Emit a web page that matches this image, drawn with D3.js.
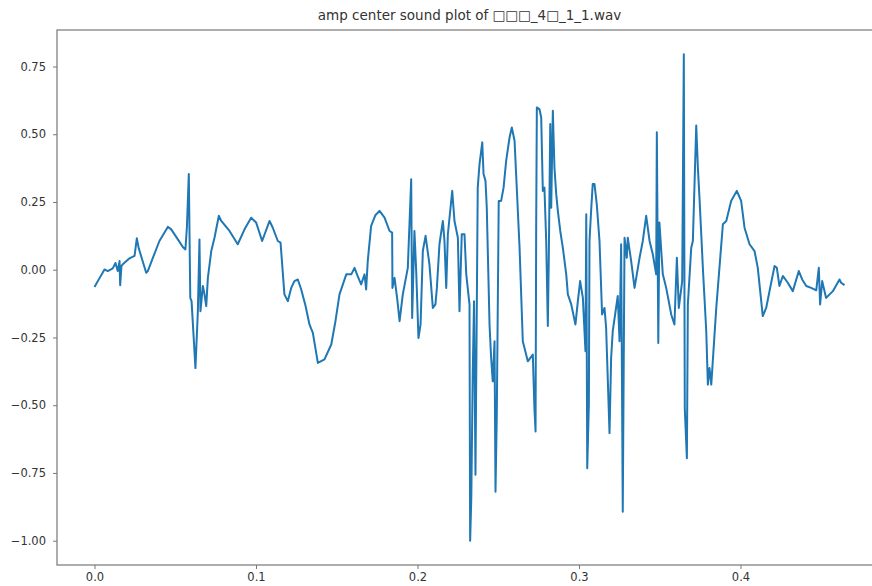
<!DOCTYPE html>
<html>
<head>
<meta charset="utf-8">
<script src="https://cdn.jsdelivr.net/npm/d3@7"></script>
<style>
  body { margin: 0; background: #fff; }
  svg { display: block; }
</style>
</head>
<body>
<svg id="chart" width="872" height="586"></svg>
<script>
const title = 'amp center sound plot of \u25A1\u25A1\u25A1_4\u25A1_1_1.wav';

// time in seconds
const times = [
  0.0000, 0.0031, 0.0062, 0.0082, 0.0113, 0.0130, 0.0144, 0.0155, 0.0159, 0.0167,
  0.0175, 0.0217, 0.0248, 0.0262, 0.0274, 0.0320, 0.0330, 0.0359, 0.0402, 0.0454,
  0.0475, 0.0514, 0.0547, 0.0563, 0.0572, 0.0584, 0.0593, 0.0601, 0.0625, 0.0640,
  0.0650, 0.0656, 0.0671, 0.0681, 0.0692, 0.0702, 0.0723, 0.0743, 0.0770, 0.0785,
  0.0836, 0.0887, 0.0929, 0.0970, 0.1001, 0.1038, 0.1084, 0.1104, 0.1135, 0.1152,
  0.1176, 0.1197, 0.1218, 0.1238, 0.1259, 0.1280, 0.1307, 0.1331, 0.1352, 0.1383,
  0.1424, 0.1466, 0.1492, 0.1517, 0.1559, 0.1590, 0.1610, 0.1629, 0.1651, 0.1672,
  0.1682, 0.1692, 0.1713, 0.1740, 0.1765, 0.1796, 0.1827, 0.1843, 0.1845, 0.1858,
  0.1876, 0.1889, 0.1909, 0.1940, 0.1961, 0.1967, 0.1981, 0.1992, 0.2006, 0.2019,
  0.2033, 0.2050, 0.2074, 0.2095, 0.2111, 0.2120, 0.2136, 0.2157, 0.2167, 0.2178,
  0.2188, 0.2215, 0.2229, 0.2250, 0.2260, 0.2274, 0.2291, 0.2302, 0.2322, 0.2326,
  0.2333, 0.2342, 0.2350, 0.2359, 0.2373, 0.2384, 0.2401, 0.2409, 0.2421, 0.2429,
  0.2446, 0.2456, 0.2466, 0.2477, 0.2483, 0.2491, 0.2503, 0.2518, 0.2533, 0.2549,
  0.2570, 0.2584, 0.2601, 0.2632, 0.2652, 0.2683, 0.2714, 0.2724, 0.2731, 0.2735,
  0.2739, 0.2755, 0.2766, 0.2776, 0.2786, 0.2797, 0.2807, 0.2813, 0.2822, 0.2828,
  0.2838, 0.2848, 0.2859, 0.2869, 0.2884, 0.2900, 0.2921, 0.2931, 0.2952, 0.2978,
  0.2993, 0.3007, 0.3024, 0.3040, 0.3045, 0.3051, 0.3061, 0.3065, 0.3075, 0.3085,
  0.3096, 0.3110, 0.3127, 0.3143, 0.3158, 0.3168, 0.3189, 0.3199, 0.3209, 0.3240,
  0.3251, 0.3261, 0.3271, 0.3282, 0.3296, 0.3302, 0.3323, 0.3344, 0.3375, 0.3395,
  0.3416, 0.3437, 0.3457, 0.3478, 0.3482, 0.3491, 0.3498, 0.3519, 0.3540, 0.3571,
  0.3591, 0.3606, 0.3618, 0.3639, 0.3649, 0.3655, 0.3668, 0.3674, 0.3695, 0.3705,
  0.3726, 0.3736, 0.3746, 0.3757, 0.3767, 0.3788, 0.3798, 0.3808, 0.3819, 0.3850,
  0.3891, 0.3912, 0.3942, 0.3977, 0.4004, 0.4025, 0.4056, 0.4087, 0.4107, 0.4138,
  0.4159, 0.4186, 0.4211, 0.4225, 0.4241, 0.4262, 0.4293, 0.4324, 0.4361, 0.4382,
  0.4407, 0.4438, 0.4469, 0.4485, 0.4493, 0.4506, 0.4530, 0.4572, 0.4613, 0.4623,
  0.4644
];

// normalised amplitude
const amps = [
  -0.064, -0.031, 0.001, -0.005, 0.005, 0.025, -0.005, 0.032, -0.057, 0.014,
  0.020, 0.042, 0.051, 0.116, 0.079, -0.011, -0.005, 0.040, 0.106, 0.158,
  0.149, 0.114, 0.084, 0.075, 0.155, 0.353, -0.104, -0.116, -0.363, -0.153,
  0.112, -0.153, -0.060, -0.090, -0.134, -0.030, 0.069, 0.118, 0.199, 0.180,
  0.143, 0.094, 0.149, 0.192, 0.174, 0.106, 0.180, 0.155, 0.106, 0.100,
  -0.091, -0.116, -0.067, -0.042, -0.036, -0.073, -0.134, -0.202, -0.233, -0.344,
  -0.331, -0.276, -0.190, -0.091, -0.017, -0.017, 0.007, -0.023, -0.054, -0.017,
  -0.073, 0.032, 0.162, 0.202, 0.217, 0.192, 0.143, 0.137, -0.067, -0.030,
  -0.116, -0.190, -0.091, 0.007, 0.334, -0.178, 0.143, -0.005, -0.252, -0.202,
  0.069, 0.125, 0.020, -0.141, -0.128, -0.067, 0.094, 0.180, 0.106, -0.067,
  0.131, 0.291, 0.180, 0.118, -0.153, 0.131, 0.131, -0.017, -0.128, -1.000,
  -0.844, -0.387, -0.116, -0.757, 0.303, 0.390, 0.470, 0.353, 0.328, 0.229,
  -0.202, -0.326, -0.412, -0.264, -0.819, -0.535, 0.254, 0.254, 0.303, 0.402,
  0.488, 0.525, 0.476, 0.081, -0.264, -0.338, -0.313, -0.511, -0.597, 0.168,
  0.599, 0.593, 0.562, 0.291, 0.303, 0.106, -0.208, 0.044, 0.538, 0.229,
  0.587, 0.377, 0.279, 0.217, 0.143, 0.081, -0.017, -0.091, -0.128, -0.202,
  -0.116, -0.042, -0.104, -0.301, 0.205, -0.733, -0.498, 0.106, 0.217, 0.316,
  0.316, 0.242, 0.106, -0.165, -0.141, -0.215, -0.603, -0.326, -0.227, -0.097,
  -0.264, 0.094, -0.893, 0.118, 0.044, 0.118, 0.032, -0.067, 0.044, 0.106,
  0.199, 0.106, 0.057, -0.017, 0.507, -0.270, 0.174, -0.017, -0.067, -0.165,
  -0.202, 0.044, -0.141, -0.042, 0.795, -0.511, -0.696, -0.128, 0.081, 0.106,
  0.532, 0.377, 0.266, 0.131, 0.007, -0.227, -0.424, -0.363, -0.424, -0.141,
  0.168, 0.180, 0.254, 0.291, 0.254, 0.155, 0.094, 0.069, 0.007, -0.171,
  -0.141, -0.060, 0.014, 0.007, -0.060, -0.023, -0.048, -0.079, -0.005, -0.036,
  -0.060, -0.067, -0.076, 0.007, -0.128, -0.042, -0.104, -0.079, -0.036, -0.048,
  -0.057
];

const xTicks = [0.0, 0.1, 0.2, 0.3, 0.4];
const yTicks = [-1.0, -0.75, -0.5, -0.25, 0.0, 0.25, 0.5, 0.75];

const data = times.map((t, i) => ({ t: t, a: amps[i] }));

const width = 872;
const height = 586;
// axes box (right edge sits just outside the picture, like the reference)
const margin = { top: 30, left: 57, right: -10, bottom: 21 };

const svg = d3.select('#chart');

// matplotlib style 5% padding around the data
function padded(ext) {
  const p = (ext[1] - ext[0]) * 0.05;
  return [ext[0] - p, ext[1] + p];
}

const x = d3.scaleLinear()
  .domain(padded(d3.extent(times)))
  .range([margin.left, width - margin.right]);

const y = d3.scaleLinear()
  .domain(padded(d3.extent(amps)))
  .range([height - margin.bottom, margin.top]);

svg.append('text')
  .attr('x', (margin.left + width - margin.right) / 2)
  .attr('y', 20)
  .attr('text-anchor', 'middle')
  .attr('font-family', 'DejaVu Sans')
  .attr('font-size', '13.5px')
  .attr('fill', '#333')
  .text(title);

const line = d3.line()
  .x(d => x(d.t))
  .y(d => y(d.a));

svg.append('path')
  .datum(data)
  .attr('fill', 'none')
  .attr('stroke', '#1f77b4')
  .attr('stroke-width', 2)
  .attr('stroke-linejoin', 'round')
  .attr('d', line);

function xAxis(g) {
  g.attr('transform', `translate(0,${height - margin.bottom})`)
    .call(d3.axisBottom(x).tickValues(xTicks).tickFormat(d3.format('.1f')).tickSizeInner(4).tickSizeOuter(0).tickPadding(4))
    .call(g => g.select('.domain').remove());
}

function yAxis(g) {
  g.attr('transform', `translate(${margin.left},0)`)
    .call(d3.axisLeft(y).tickValues(yTicks).tickFormat(d3.format('.2f')).tickSizeInner(4).tickSizeOuter(0).tickPadding(7))
    .call(g => g.select('.domain').remove());
}

svg.append('g').call(xAxis);
svg.append('g').call(yAxis);

svg.selectAll('.tick line').attr('stroke', '#777');
svg.selectAll('.tick text')
  .attr('font-family', 'DejaVu Sans')
  .attr('font-size', '11.5px')
  .attr('fill', '#333');

// spines
svg.append('rect')
  .attr('x', margin.left)
  .attr('y', margin.top)
  .attr('width', width - margin.right - margin.left)
  .attr('height', height - margin.bottom - margin.top)
  .attr('fill', 'none')
  .attr('stroke', '#777')
  .attr('stroke-width', 1.2);
</script>
</body>
</html>
